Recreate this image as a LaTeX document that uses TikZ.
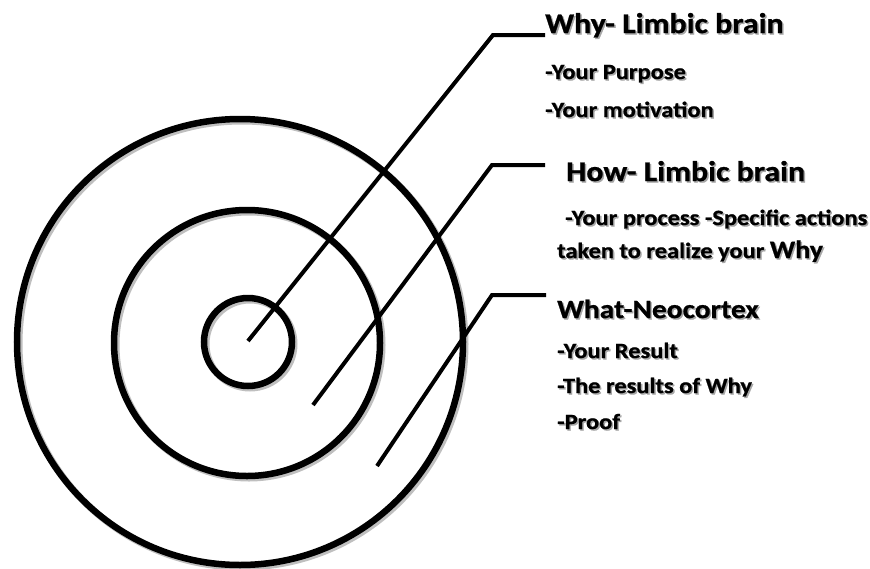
\documentclass[tikz,border=0pt]{standalone}
\usepackage{fontspec}
\setmainfont{Carlito}
\newfontfamily\lblfont[FakeStretch=1.12, FakeBold=0.8]{Carlito}
\tikzset{
  ring/.style={line width=6.5pt, draw=black},
  leader/.style={line width=4pt, draw=black, line join=miter},
  head/.style={anchor=base west, inner sep=0pt, font=\lblfont\bfseries\fontsize{28.5}{28.5}\selectfont},
  sub/.style={anchor=base west, inner sep=0pt, font=\lblfont\bfseries\fontsize{21.8}{21.8}\selectfont},
  shadowtxt/.style={text=black!35}
}
\newcommand{\shtext}[4]{% style, name, x,y, text
  \node[#1, shadowtxt] at ([shift={(1.5,1.5)}]#3) {#4};
  \node[#1] (#2) at (#3) {#4};
}
\begin{document}
\begin{tikzpicture}[x=1pt, y=-1pt]
\useasboundingbox (0,0) rectangle (870,568);
% circles
\draw[ring, black!25, line width=7pt] (242,344) circle[radius=223];
\draw[ring] (240,342) circle[radius=223];
\draw[ring, black!25, line width=7pt] (249,345) circle[radius=133];
\draw[ring] (247,343) circle[radius=133];
\draw[ring, black!25, line width=7pt] (250,344) circle[radius=44];
\draw[ring] (248,342) circle[radius=44];
% texts
\shtext{head}{why}{545,33}{Why- Limbic brain}
\shtext{sub}{why1}{545,79}{-Your Purpose}
\shtext{sub}{why2}{545,117}{-Your motivation}
\shtext{head}{how}{566,181}{How- Limbic brain}
\shtext{sub}{how1}{565,225}{-Your process -Specific actions}
\shtext{sub}{how2}{557,258}{taken to realize your {\fontsize{25}{25}\selectfont Why}}
\shtext{head, font=\lblfont\bfseries\fontsize{26.3}{26.3}\selectfont}{what}{557,318}{What-Neocortex}
\shtext{sub}{what1}{557,358}{-Your Result}
\shtext{sub}{what2}{557,393}{-The results of Why}
\shtext{sub}{what3}{557,429}{-Proof}
% leaders
\coordinate (whyin) at (248,341);
\coordinate (whyknee) at (493,35);
\coordinate (whyend) at (545,35);
\coordinate (howin) at (313,405);
\coordinate (howknee) at (492,165);
\coordinate (howend) at (545,165);
\coordinate (whatin) at (377,466);
\coordinate (whatknee) at (492,295);
\coordinate (whatend) at (546,295);
\draw[leader] (whyin) -- (whyknee) -- (whyend);
\draw[leader] (howin) -- (howknee) -- (howend);
\draw[leader] (whatin) -- (whatknee) -- (whatend);
\end{tikzpicture}
\end{document}
